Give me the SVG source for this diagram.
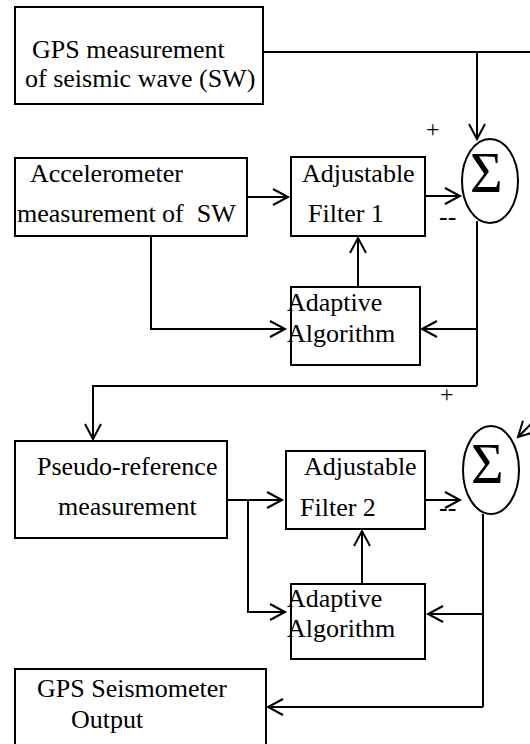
<svg xmlns="http://www.w3.org/2000/svg" width="530" height="744" viewBox="0 0 530 744">
<style>
.box{fill:#fff;stroke:#000;stroke-width:2}
.t{font-family:"Liberation Serif","Times New Roman",serif;font-size:26px;fill:#000}
.s{font-family:"Liberation Serif","Times New Roman",serif;font-size:56px;fill:#000}
.w{fill:none;stroke:#000;stroke-width:2}
.e{fill:none;stroke:#000;stroke-width:2}
</style>
<defs>
<marker id="a" markerUnits="userSpaceOnUse" markerWidth="18" markerHeight="20" refX="16" refY="9" orient="auto" overflow="visible">
<path d="M1,1 L16,9 L1,17" fill="none" stroke="#000" stroke-width="2"/>
</marker>
</defs>
<g id="gps">
<rect class="box" x="15" y="7" width="248" height="97"/>
<text class="t" x="32" y="58">GPS measurement</text>
<text class="t" x="25" y="87">of seismic wave (SW)</text>
</g>
<g id="acc">
<rect class="box" x="15" y="158" width="232" height="78"/>
<text class="t" x="30" y="182">Accelerometer</text>
<text class="t" x="17" y="222" xml:space="preserve">measurement of  SW</text>
</g>
<g id="filter1">
<rect class="box" x="291" y="157" width="134" height="79"/>
<text class="t" x="302" y="182">Adjustable</text>
<text class="t" x="308" y="222">Filter 1</text>
</g>
<g id="sum1">
<ellipse class="e" cx="490" cy="181" rx="28" ry="42"/>
<text class="s" x="470" y="192">Σ</text>
</g>
<g id="adapt1">
<rect class="box" x="291" y="287" width="129" height="78"/>
<text class="t" x="287" y="311">Adaptive</text>
<text class="t" x="287" y="342">Algorithm</text>
</g>
<g id="pseudo">
<rect class="box" x="15" y="441" width="212" height="97"/>
<text class="t" x="37" y="475">Pseudo-reference</text>
<text class="t" x="58" y="515">measurement</text>
</g>
<g id="filter2">
<rect class="box" x="286" y="451" width="139" height="78"/>
<text class="t" x="304" y="475">Adjustable</text>
<text class="t" x="300" y="516">Filter 2</text>
</g>
<g id="sum2">
<ellipse class="e" cx="491" cy="470" rx="28" ry="44"/>
<text class="s" x="471" y="483">Σ</text>
</g>
<g id="adapt2">
<rect class="box" x="291" y="584" width="134" height="75"/>
<text class="t" x="287" y="607">Adaptive</text>
<text class="t" x="287" y="637">Algorithm</text>
</g>
<g id="output">
<rect class="box" x="15" y="669" width="251" height="90"/>
<text class="t" x="37" y="697">GPS Seismometer</text>
<text class="t" x="71" y="728">Output</text>
</g>
<g id="connectors">
<path class="w" d="M263,52 H532"/>
<path class="w" d="M477,52 V139" marker-end="url(#a)"/>
<path class="w" d="M247,197 H288" marker-end="url(#a)"/>
<path class="w" d="M425,196 H460" marker-end="url(#a)"/>
<path class="w" d="M358,287 V238" marker-end="url(#a)"/>
<path class="w" d="M151,236 V329 H285" marker-end="url(#a)"/>
<path class="w" d="M477,221 V386"/>
<path class="w" d="M477,329 H422" marker-end="url(#a)"/>
<path class="w" d="M477,386 H93 V439" marker-end="url(#a)"/>
<path class="w" d="M227,500 H282" marker-end="url(#a)"/>
<path class="w" d="M248,500 V612 H285" marker-end="url(#a)"/>
<path class="w" d="M425,500 H460" marker-end="url(#a)"/>
<path class="w" d="M362,584 V531" marker-end="url(#a)"/>
<path class="w" d="M532,423 L518,437" marker-end="url(#a)"/>
<path class="w" d="M483,514 V707"/>
<path class="w" d="M483,614 H428" marker-end="url(#a)"/>
<path class="w" d="M483,707 H268" marker-end="url(#a)"/>
<text class="t" x="426" y="137" style="font-size:24px">+</text>
<text class="t" x="440" y="402" style="font-size:24px">+</text>
<text class="t" x="439" y="225">--</text>
<text class="t" x="439" y="516">--</text>
</g>
</svg>
